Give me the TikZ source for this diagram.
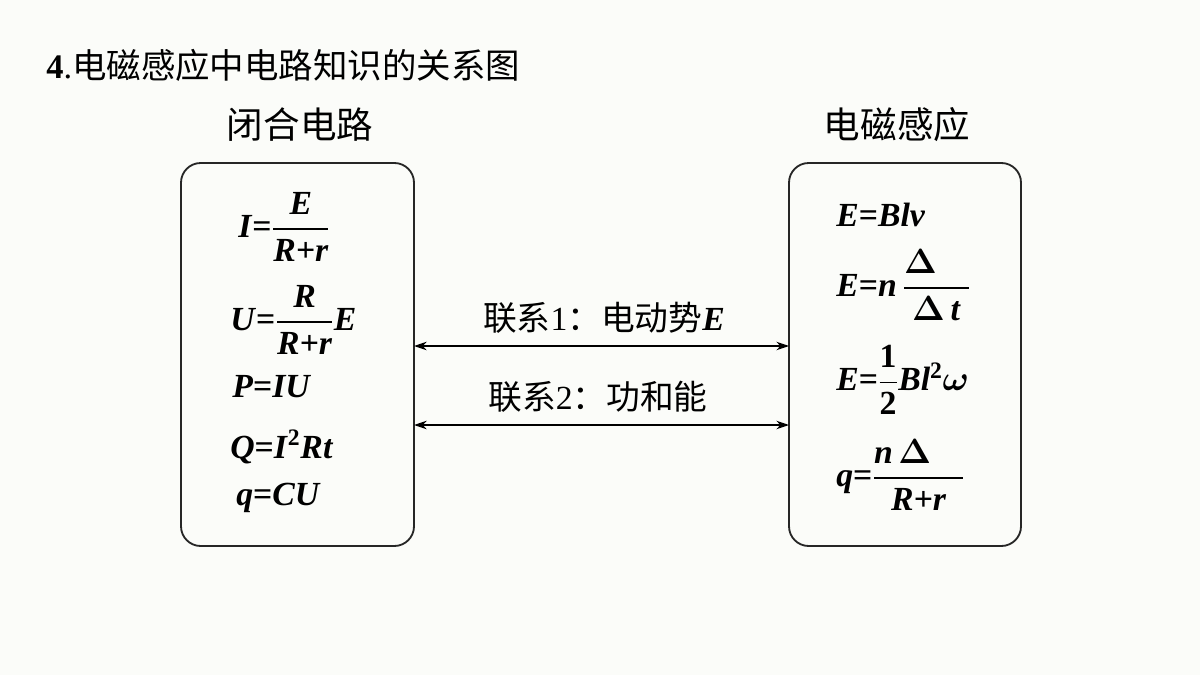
\documentclass[tikz,border=0pt]{standalone}
\usetikzlibrary{arrows.meta}
\usepackage{amsmath,bm}
\usepackage{fontspec}
\setmainfont{Liberation Serif}
\newfontfamily\cjk{Noto Sans CJK SC}
\newcommand{\fx}[1]{\textbf{\textit{#1}}}
\newcommand{\fr}[2]{\ensuremath{\dfrac{\text{\fx{#1}}}{\text{\fx{#2}}}}}
\newcommand{\gD}{\ensuremath{\bm{\Delta}}}
\newcommand{\gP}{\ensuremath{\bm{\mathit{\Phi}}}}
\begin{document}
\begin{tikzpicture}[x=0.025cm,y=-0.025cm,
  box/.style={draw=black!85,line width=1.3pt,rounded corners=14pt},
  fm/.style={anchor=west,inner sep=0pt,font=\fontsize{24}{28}\selectfont},
  hd/.style={font=\cjk\fontsize{26}{30}\selectfont},
  lb/.style={font=\fontsize{24}{28}\selectfont},
  arr/.style={<->,>={Stealth[length=9pt,width=6pt]},line width=1pt}]
\useasboundingbox[fill={rgb,255:red,251;green,252;blue,249}] (0,0) rectangle (1200,675);
\node[anchor=west,inner sep=0pt,font=\fontsize{24.5}{28}\selectfont] (title) at (46,65) {\textbf{4}.{\cjk 电磁感应中电路知识的关系图}};
\node[hd] (hl) at (300,125) {闭合电路};
\node[hd] (hr) at (897,125) {电磁感应};
\draw[box] (181,163) rectangle (414,546);
\draw[box] (789,163) rectangle (1021,546);
\coordinate (l1) at (414,346); \coordinate (r1) at (789,346);
\coordinate (l2) at (414,425); \coordinate (r2) at (789,425);
\draw[arr] (l1) -- (r1);
\draw[arr] (l2) -- (r2);
\node[lb] (t1) at (604,318) {{\cjk 联系}1{\cjk ：电动势}\fx{E}};
\node[lb] (t2) at (598,397) {{\cjk 联系}2{\cjk ：功和能}};
\node[fm] (f1) at (238,227) {\fx{I}\textbf{=}\fr{E}{R+r}};
\node[fm] (f2) at (230,320) {\fx{U}\textbf{=}\fr{R}{R+r}\fx{E}};
\node[fm] (f3) at (232,387) {\fx{P}\textbf{=}\fx{IU}};
\node[fm] (f4) at (230,447) {\fx{Q}\textbf{=}\fx{I}\textsuperscript{\textbf{2}}\fx{Rt}};
\node[fm] (f5) at (236,498) {\fx{q}\textbf{=}\fx{CU}};
\node[fm] (g1) at (836,215) {\fx{E}\textbf{=}\fx{Blv}};
\node[fm] (g2) at (836,285) {\fx{E}\textbf{=}\fx{n}\,\fr{\gD\,\gP}{\gD\,t}};
\node[fm] (g3) at (836,380) {\fx{E}\textbf{=}\ensuremath{\dfrac{\textbf{1}}{\textbf{2}}}\fx{Bl}\textsuperscript{\textbf{2}}\ensuremath{\bm{\omega}}};
\node[fm] (g4) at (836,475) {\fx{q}\textbf{=}\fr{n\,\gD\,\gP}{R+r}};
\end{tikzpicture}
\end{document}
